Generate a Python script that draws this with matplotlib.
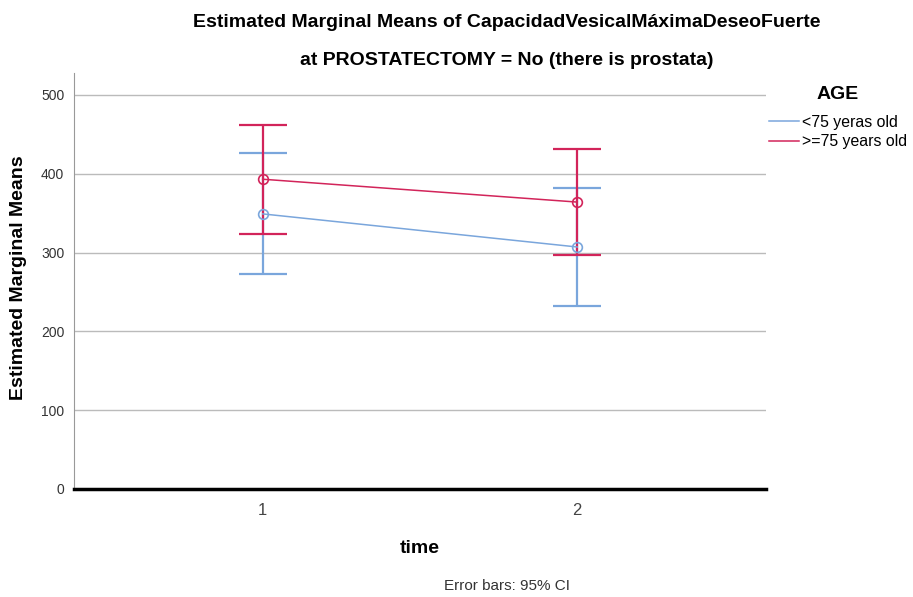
import matplotlib.pyplot as plt

plt.rcParams['font.family'] = ['Liberation Sans', 'DejaVu Sans']

# data
times = [1, 2]
groups = ['<75 yeras old', '>=75 years old']
means_young = [349, 307]
lower_young = [273, 232]
upper_young = [426, 382]
means_old = [393, 364]
lower_old = [324, 297]
upper_old = [462, 431]
y_ticks = [0, 100, 200, 300, 400, 500]

blue = '#7aa6dc'
red = '#d2245a'

fig = plt.figure(figsize=(9.13, 5.97), dpi=100)
ax = fig.add_axes([0.081, 0.181, 0.758, 0.697])

series = [
    (means_young, lower_young, upper_young, blue, groups[0]),
    (means_old, lower_old, upper_old, red, groups[1]),
]
for means, lo, hi, col, lab in series:
    err = [[m - l for m, l in zip(means, lo)], [h - m for m, h in zip(means, hi)]]
    ax.errorbar(times, means, yerr=err, fmt='none', ecolor=col, elinewidth=1.6,
                capsize=17, capthick=1.6, zorder=3)
    ax.plot(times, means, color=col, lw=1.1, marker='o', ms=7, mfc='none',
            mec=col, mew=1.2, label=lab, zorder=4)

ax.set_xlim(0.4, 2.6)
ax.set_ylim(0, 528)
ax.set_xticks(times)
ax.set_xticklabels(['1', '2'], fontsize=12, color='#444444')
ax.set_yticks(y_ticks)
ax.set_yticklabels([str(v) for v in y_ticks], fontsize=10, color='#333333')
ax.tick_params(axis='x', length=0, pad=10)
ax.tick_params(axis='y', length=0, pad=7)
ax.grid(axis='y', color='#bbbbbb', lw=1.0)
ax.set_axisbelow(True)
for s in ['top', 'right']:
    ax.spines[s].set_visible(False)
ax.spines['left'].set_color('#999999')
ax.spines['bottom'].set_color('black')
ax.spines['bottom'].set_linewidth(2.5)

ax.set_xlabel('time', fontsize=14, fontweight='bold', labelpad=16)
fig.text(0.020, 0.535, 'Estimated Marginal Means', rotation=90, ha='center',
         va='center', fontsize=14, fontweight='bold')

fig.text(0.555, 0.963, 'Estimated Marginal Means of CapacidadVesicalMáximaDeseoFuerte',
         ha='center', va='center', fontsize=14, fontweight='bold')
fig.text(0.555, 0.899, 'at PROSTATECTOMY = No (there is prostata)',
         ha='center', va='center', fontsize=14, fontweight='bold')
fig.text(0.555, 0.018, 'Error bars: 95% CI', ha='center', va='center', fontsize=11,
         color='#333333')

leg = ax.legend(loc='upper left', bbox_to_anchor=(1.0, 0.975), frameon=False,
                title='AGE', fontsize=11.4, handlelength=1.9, handletextpad=0.15,
                labelspacing=0.3, borderaxespad=0.2, borderpad=0.0)
leg.get_title().set_fontweight('bold')
leg.get_title().set_fontsize(14)
leg._legend_box.sep = 8
for h in leg.legend_handles:
    h.set_marker('')

fig.savefig('out.png', dpi=100)
